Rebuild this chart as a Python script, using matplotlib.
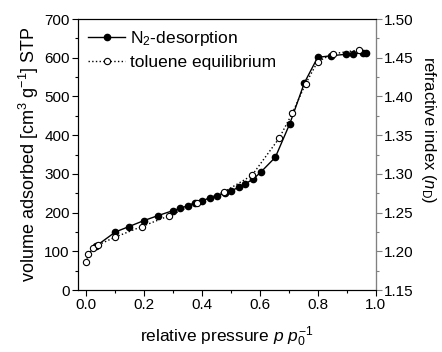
import matplotlib
matplotlib.use("Agg")
import matplotlib.pyplot as plt
from matplotlib.ticker import MultipleLocator, FormatStrFormatter

plt.rcParams['font.family'] = ['Liberation Sans', 'DejaVu Sans']
plt.rcParams['mathtext.fontset'] = 'custom'
plt.rcParams['mathtext.rm'] = 'Liberation Sans'
plt.rcParams['mathtext.it'] = 'Liberation Sans:italic'

# N2 desorption isotherm (left axis)
n2_p = [0.035, 0.101, 0.148, 0.198, 0.247, 0.299, 0.325, 0.351, 0.376, 0.401,
        0.428, 0.453, 0.478, 0.501, 0.527, 0.549, 0.577, 0.602, 0.653, 0.703,
        0.753, 0.799, 0.845, 0.897, 0.922, 0.956, 0.966]
n2_v = [114, 150, 164, 179, 192, 205, 211, 218, 226, 231,
        238, 243, 250, 257, 265, 274, 287, 304, 343, 430,
        535, 601, 605, 609, 610, 613, 613]

# toluene equilibrium refractive index (right axis)
tol_p = [0.000, 0.007, 0.024, 0.040, 0.098, 0.192, 0.287, 0.381, 0.477, 0.572,
         0.666, 0.711, 0.757, 0.799, 0.851, 0.941]
tol_n = [1.186, 1.196, 1.204, 1.208, 1.218, 1.232, 1.246, 1.262, 1.277, 1.298,
         1.346, 1.378, 1.416, 1.445, 1.455, 1.460]

fig = plt.figure(figsize=(4.42, 3.52), dpi=100)
ax = fig.add_axes([0.1765, 0.176, 0.674, 0.770])
ax2 = ax.twinx()

ax.plot(n2_p, n2_v, '-', color='black', lw=1.0, marker='o', ms=4.5,
        mfc='black', mec='black', label='N$_2$-desorption')
ax.plot([], [], ':', color='black', lw=1.0, marker='o', ms=4.5,
        mfc='white', mec='black', mew=0.8, label='toluene equilibrium')
ax2.plot(tol_p, tol_n, ':', color='black', lw=1.0, marker='o', ms=4.5,
         mfc='white', mec='black', mew=0.8)

ax.set_xlim(-0.028, 1.0)
ax.set_ylim(0, 700)
ax2.set_ylim(1.15, 1.50)

ax.xaxis.set_major_locator(MultipleLocator(0.2))
ax.xaxis.set_minor_locator(MultipleLocator(0.1))
ax.yaxis.set_major_locator(MultipleLocator(100))
ax.yaxis.set_minor_locator(MultipleLocator(50))
ax2.yaxis.set_major_locator(MultipleLocator(0.05))
ax2.yaxis.set_minor_locator(MultipleLocator(0.025))

ax.tick_params(direction='out', labelsize=11, length=4, width=0.8, pad=2)
ax.tick_params(which='minor', direction='out', length=2, width=0.8)
ax2.tick_params(direction='out', labelsize=11, length=4, width=0.8, pad=2,
                color='gray')
ax2.tick_params(which='minor', direction='out', length=2, width=0.8, color='gray')
ax2.spines['right'].set_color('gray')
ax.xaxis.set_major_formatter(FormatStrFormatter('%.1f'))
ax2.yaxis.set_major_formatter(FormatStrFormatter('%.2f'))

ax.set_xlabel('relative pressure $p$ $p_0^{-1}$', fontsize=12.5, labelpad=9)
ax.set_ylabel('volume adsorbed [cm$^3$ g$^{-1}$] STP', fontsize=13, labelpad=2)
ax2.set_ylabel('refractive index ($n_\\mathrm{D}$)', fontsize=12, rotation=270,
               va='center', ha='center')
ax2.yaxis.set_label_coords(1.178, 0.59)

ax.legend(loc='upper left', frameon=False, fontsize=12.5, handlelength=2.1,
          handletextpad=0.3, borderaxespad=0.2, labelspacing=0.35)

fig.savefig('out.png', dpi=100)
